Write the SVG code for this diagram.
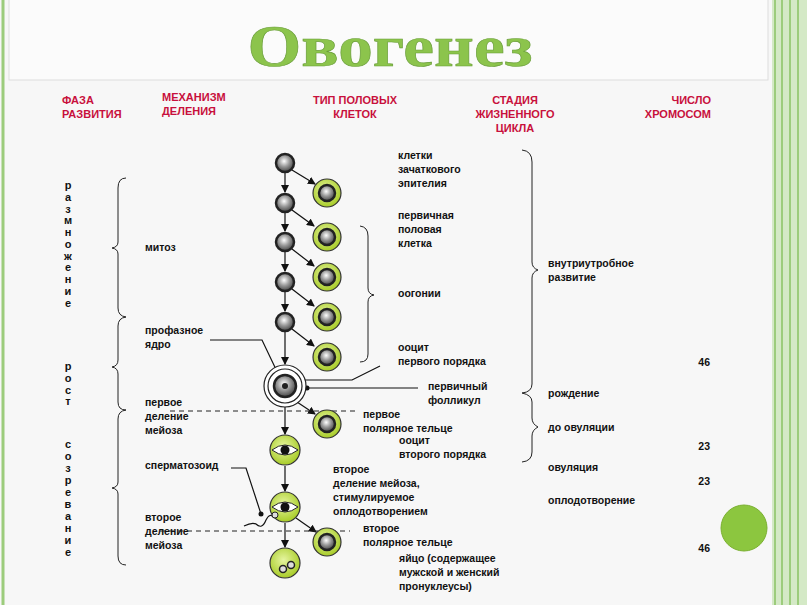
<svg xmlns="http://www.w3.org/2000/svg" width="807" height="605" viewBox="0 0 807 605">
<defs>
<marker id="ar" markerWidth="8" markerHeight="8" refX="7" refY="4" orient="auto" markerUnits="userSpaceOnUse"><path d="M0,0 L8,4 L0,8 z" fill="#111"/></marker>
<radialGradient id="gy" cx="0.45" cy="0.4" r="0.6"><stop offset="0" stop-color="#fff"/><stop offset="0.5" stop-color="#999"/><stop offset="1" stop-color="#444"/></radialGradient>
<radialGradient id="gn" cx="0.45" cy="0.4" r="0.6"><stop offset="0" stop-color="#e6f5a0"/><stop offset="1" stop-color="#a8cc28"/></radialGradient>
</defs>
<style>
text{font-family:"Liberation Sans",Arial,sans-serif;font-weight:bold;font-size:10.5px;fill:#111}
.h{fill:#c8103c;font-size:11px}
.c{text-anchor:middle}
.v{text-anchor:middle;font-size:11px}
.br{fill:none;stroke:#222;stroke-width:1}
.ln{fill:none;stroke:#111;stroke-width:1.2}
.ds{stroke:#222;stroke-width:1;stroke-dasharray:5,4}
.g{fill:url(#gy);stroke:#222;stroke-width:2.5}
.gc{fill:url(#gn);stroke:#333;stroke-width:1.2}
</style>
<rect x="0" y="0" width="807" height="605" fill="#f7f7f7"/>
<line x1="3" y1="0" x2="3" y2="605" stroke="#9ccc7c" stroke-width="3"/>
<rect x="772" y="0" width="35" height="605" fill="#d4e9c6"/>
<g stroke="#9ccc7c" stroke-width="2"><line x1="775" y1="0" x2="775" y2="605"/><line x1="782" y1="0" x2="782" y2="605"/><line x1="790" y1="0" x2="790" y2="605"/><line x1="798" y1="0" x2="798" y2="605"/></g>
<rect x="9" y="-2" width="759" height="82" fill="#fbfbfb" stroke="#ddd"/>
<text x="390" y="66" text-anchor="middle" style="font-family:'Liberation Serif',serif;font-weight:bold;font-size:60px;fill:#8cc44c;stroke:#6a9e3a;stroke-width:0.6" textLength="285" lengthAdjust="spacingAndGlyphs">Овогенез</text>

<g id="headers">
<text class="h" x="62" y="104">ФАЗА</text><text class="h" x="62" y="118">РАЗВИТИЯ</text>
<text class="h" x="162" y="101">МЕХАНИЗМ</text><text class="h" x="162" y="115">ДЕЛЕНИЯ</text>
<text class="h c" x="355" y="104">ТИП ПОЛОВЫХ</text><text class="h c" x="355" y="118">КЛЕТОК</text>
<text class="h c" x="515" y="104">СТАДИЯ</text><text class="h c" x="515" y="118">ЖИЗНЕННОГО</text><text class="h c" x="515" y="132">ЦИКЛА</text>
<text class="h" x="711" y="104" text-anchor="end">ЧИСЛО</text><text class="h" x="711" y="118" text-anchor="end">ХРОМОСОМ</text>
</g>

<g id="phases">
<text class="v" x="68" y="189">р</text><text class="v" x="68" y="201">а</text><text class="v" x="68" y="213">з</text><text class="v" x="68" y="224">м</text><text class="v" x="68" y="236">н</text><text class="v" x="68" y="248">о</text><text class="v" x="68" y="260">ж</text><text class="v" x="68" y="271">е</text><text class="v" x="68" y="283">н</text><text class="v" x="68" y="295">и</text><text class="v" x="68" y="307">е</text>
<text class="v" x="68" y="370">р</text><text class="v" x="68" y="382">о</text><text class="v" x="68" y="394">с</text><text class="v" x="68" y="405">т</text>
<text class="v" x="68" y="448">с</text><text class="v" x="68" y="460">о</text><text class="v" x="68" y="472">з</text><text class="v" x="68" y="484">р</text><text class="v" x="68" y="496">е</text><text class="v" x="68" y="508">в</text><text class="v" x="68" y="520">а</text><text class="v" x="68" y="532">н</text><text class="v" x="68" y="544">и</text><text class="v" x="68" y="556">е</text>
<path class="br" d="M126,178 Q118,178 118,188 V242 Q118,247 112,248 Q118,249 118,254 V308 Q118,316 126,317"/>
<path class="br" d="M126,317 Q118,318 118,326 V360 Q118,366 112,367 Q118,368 118,374 V402 Q118,410 126,410"/>
<path class="br" d="M126,410 Q118,411 118,419 V482 Q118,487 112,488 Q118,489 118,494 V556 Q118,565 126,565"/>
</g>

<g id="mechanisms">
<text x="145" y="251">митоз</text>
<text x="145" y="334">профазное</text><text x="145" y="348">ядро</text>
<text x="145" y="406">первое</text><text x="145" y="420">деление</text><text x="145" y="434">мейоза</text>
<text x="145" y="469">сперматозоид</text>
<text x="145" y="521">второе</text><text x="145" y="535">деление</text><text x="145" y="549">мейоза</text>
</g>

<g id="connectors">
<g class="ln" marker-end="url(#ar)">
<line x1="285" y1="173" x2="285" y2="192"/><line x1="285" y1="213" x2="285" y2="231"/><line x1="285" y1="252" x2="285" y2="271"/><line x1="285" y1="292" x2="285" y2="311"/><line x1="285" y1="332" x2="285" y2="364"/>
<line x1="292" y1="170" x2="315" y2="184"/><line x1="292" y1="210" x2="314" y2="226"/><line x1="292" y1="249" x2="314" y2="266"/><line x1="292" y1="289" x2="314" y2="306"/><line x1="292" y1="329" x2="314" y2="346"/>
<line x1="285" y1="407" x2="285" y2="434"/><line x1="297" y1="402" x2="315" y2="414"/>
<line x1="285" y1="466" x2="285" y2="491"/><line x1="285" y1="523" x2="285" y2="547"/><line x1="296" y1="518" x2="316" y2="532"/>
</g>
<line class="ds" x1="170" y1="411" x2="355" y2="411"/>
<line class="ds" x1="160" y1="531" x2="350" y2="531"/>
<path class="ln" d="M210,340 H262 L282,382"/>
<path class="ln" d="M380,366 L352,380 H302"/><circle cx="302" cy="380" r="2.5" fill="#111"/>
<path class="ln" d="M418,388 H307"/><circle cx="307" cy="388" r="2.5" fill="#111"/>
<path class="ln" d="M231,468 H246 L261,514"/><circle cx="261" cy="514" r="2.5" fill="#111"/>
<path class="ln" d="M244,526 Q252,522 256,524 Q262,530 266,520 Q270,512 274,518"/>
<path class="br" d="M360,226 Q368,227 368,236 V288 Q368,294 374,295 Q368,296 368,302 V354 Q368,362 360,362"/>
<path class="br" d="M522,150 Q532,151 532,162 V262 Q532,268 538,270 Q532,272 532,278 V384 Q532,392 522,393 Q532,395 532,402 V418 Q532,424 538,427 Q532,430 532,436 V452 Q532,461 522,462"/>
</g>

<g id="germcells">
<circle class="g" cx="285" cy="163" r="9"/><circle class="g" cx="285" cy="203" r="9"/><circle class="g" cx="285" cy="242" r="9"/><circle class="g" cx="285" cy="282" r="9"/><circle class="g" cx="285" cy="322" r="9"/>
<g><circle class="gc" cx="327" cy="193" r="14"/><circle class="g" cx="327" cy="193" r="8"/></g>
<g><circle class="gc" cx="327" cy="237" r="14"/><circle class="g" cx="327" cy="237" r="8"/></g>
<g><circle class="gc" cx="327" cy="277" r="14"/><circle class="g" cx="327" cy="277" r="8"/></g>
<g><circle class="gc" cx="327" cy="317" r="14"/><circle class="g" cx="327" cy="317" r="8"/></g>
<g><circle class="gc" cx="327" cy="357" r="14"/><circle class="g" cx="327" cy="357" r="8"/></g>
<g id="follicle"><circle cx="285" cy="386" r="21" fill="#fff" stroke="#222" stroke-width="1.2"/><circle cx="285" cy="386" r="17" fill="#fff" stroke="#222" stroke-width="1.2"/><circle class="g" cx="285" cy="386" r="11"/><circle cx="285" cy="386" r="3" fill="#222"/></g>
<g><circle class="gc" cx="327" cy="424" r="14"/><circle class="g" cx="327" cy="424" r="8"/></g>
<g id="oocyte2"><circle class="gc" cx="285" cy="450" r="15"/><path d="M272,450 Q285,440 298,450 Q285,460 272,450 z" fill="#fff" stroke="#222"/><circle cx="285" cy="450" r="4.5" fill="#111"/></g>
<g id="oocyte3"><circle class="gc" cx="285" cy="507" r="15"/><path d="M272,507 Q285,497 298,507 Q285,517 272,507 z" fill="#fff" stroke="#222"/><circle cx="285" cy="507" r="4.5" fill="#111"/><circle cx="275" cy="515" r="3" fill="#ddd" stroke="#222"/></g>
<g><circle class="gc" cx="327" cy="542" r="14"/><circle class="g" cx="327" cy="542" r="8"/></g>
<g id="egg"><circle class="gc" cx="285" cy="563" r="15"/><circle cx="283" cy="569" r="3.5" fill="#ddd" stroke="#222" stroke-width="1.5"/><circle cx="291" cy="565" r="3.5" fill="#ddd" stroke="#222" stroke-width="1.5"/></g>
</g>

<g id="celltypes">
<text x="398" y="159">клетки</text><text x="398" y="173">зачаткового</text><text x="398" y="187">эпителия</text>
<text x="398" y="219">первичная</text><text x="398" y="233">половая</text><text x="398" y="247">клетка</text>
<text x="398" y="297">оогонии</text>
<text x="398" y="351">ооцит</text><text x="398" y="365">первого порядка</text>
<text x="428" y="390">первичный</text><text x="428" y="404">фолликул</text>
<text x="363" y="418">первое</text><text x="363" y="432">полярное тельце</text>
<text x="399" y="444">ооцит</text><text x="399" y="458">второго порядка</text>
<text x="333" y="473">второе</text><text x="333" y="487">деление мейоза,</text><text x="333" y="501">стимулируемое</text><text x="333" y="515">оплодотворением</text>
<text x="363" y="532">второе</text><text x="363" y="546">полярное тельце</text>
<text x="399" y="562">яйцо (содержащее</text><text x="399" y="576">мужской и женский</text><text x="399" y="590">пронуклеусы)</text>
</g>

<g id="stages">
<text x="548" y="267">внутриутробное</text><text x="548" y="281">развитие</text>
<text x="548" y="397">рождение</text>
<text x="548" y="431">до овуляции</text>
<text x="548" y="471">овуляция</text>
<text x="548" y="504">оплодотворение</text>
</g>
<g id="chromosomes">
<text x="710" y="366" text-anchor="end">46</text>
<text x="710" y="450" text-anchor="end">23</text>
<text x="710" y="485" text-anchor="end">23</text>
<text x="710" y="552" text-anchor="end">46</text>
</g>
<circle cx="744" cy="528" r="23" fill="#8cc63f" stroke="#7ab030"/>
</svg>
